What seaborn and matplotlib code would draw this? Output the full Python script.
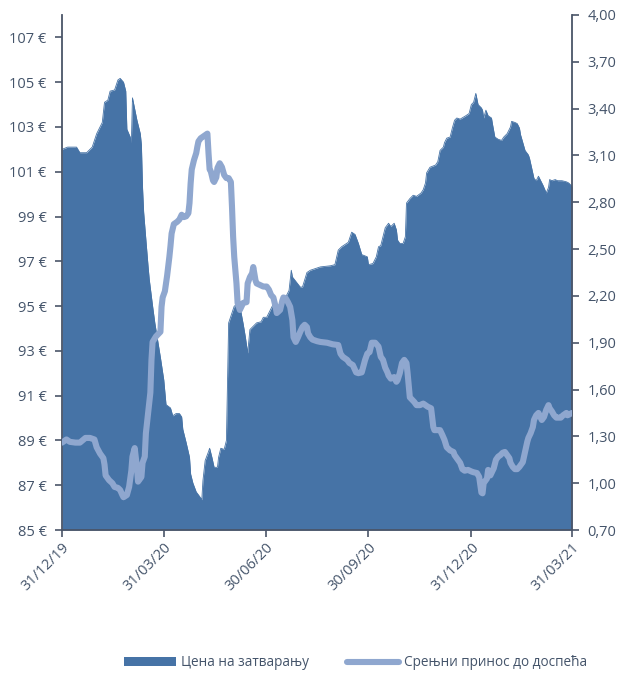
import matplotlib
matplotlib.use("Agg")
import matplotlib.pyplot as plt
import matplotlib.dates as mdates
from matplotlib.patches import Patch
from matplotlib.lines import Line2D
from matplotlib.ticker import FixedLocator, FuncFormatter
import numpy as np
import pandas as pd
import seaborn as sns

# Closing price (EUR)
price_dates = [
    "2019-12-31", "2020-01-05", "2020-01-13", "2020-01-16", "2020-01-22", "2020-01-27",
    "2020-01-31", "2020-02-03", "2020-02-05", "2020-02-07", "2020-02-10", "2020-02-12",
    "2020-02-16", "2020-02-19", "2020-02-21", "2020-02-24", "2020-02-26", "2020-02-27",
    "2020-03-01", "2020-03-02", "2020-03-03", "2020-03-07", "2020-03-10", "2020-03-11",
    "2020-03-12", "2020-03-13", "2020-03-15", "2020-03-17", "2020-03-18", "2020-03-20",
    "2020-03-21", "2020-03-23", "2020-03-28", "2020-03-31", "2020-04-02", "2020-04-06",
    "2020-04-08", "2020-04-11", "2020-04-14", "2020-04-16", "2020-04-17", "2020-04-20",
    "2020-04-23", "2020-04-24", "2020-04-26", "2020-04-29", "2020-05-02", "2020-05-04",
    "2020-05-05", "2020-05-07", "2020-05-10", "2020-05-11", "2020-05-13", "2020-05-15",
    "2020-05-18", "2020-05-19", "2020-05-21", "2020-05-24", "2020-05-26", "2020-05-27",
    "2020-05-28", "2020-05-31", "2020-06-02", "2020-06-04", "2020-06-07", "2020-06-10",
    "2020-06-12", "2020-06-14", "2020-06-16", "2020-06-19", "2020-06-22", "2020-06-26",
    "2020-06-28", "2020-07-01", "2020-07-04", "2020-07-07", "2020-07-10", "2020-07-13",
    "2020-07-17", "2020-07-21", "2020-07-23", "2020-07-24", "2020-07-31", "2020-08-02",
    "2020-08-06", "2020-08-09", "2020-08-18", "2020-08-27", "2020-08-31", "2020-09-03",
    "2020-09-06", "2020-09-12", "2020-09-15", "2020-09-18", "2020-09-21", "2020-09-24",
    "2020-09-29", "2020-09-30", "2020-10-04", "2020-10-07", "2020-10-09", "2020-10-11",
    "2020-10-13", "2020-10-15", "2020-10-18", "2020-10-20", "2020-10-23", "2020-10-25",
    "2020-10-26", "2020-10-28", "2020-10-31", "2020-11-02", "2020-11-03", "2020-11-06",
    "2020-11-09", "2020-11-12", "2020-11-16", "2020-11-18", "2020-11-20", "2020-11-21",
    "2020-11-24", "2020-11-29", "2020-12-01", "2020-12-03", "2020-12-06", "2020-12-07",
    "2020-12-09", "2020-12-12", "2020-12-14", "2020-12-16", "2020-12-18", "2020-12-21",
    "2020-12-26", "2020-12-29", "2020-12-31", "2021-01-02", "2021-01-04", "2021-01-06",
    "2021-01-09", "2021-01-10", "2021-01-11", "2021-01-13", "2021-01-15", "2021-01-18",
    "2021-01-19", "2021-01-21", "2021-01-24", "2021-01-27", "2021-01-29", "2021-02-01",
    "2021-02-04", "2021-02-05", "2021-02-08", "2021-02-10", "2021-02-12", "2021-02-13",
    "2021-02-15", "2021-02-17", "2021-02-20", "2021-02-21", "2021-02-23", "2021-02-25",
    "2021-02-27", "2021-03-01", "2021-03-03", "2021-03-05", "2021-03-08", "2021-03-10",
    "2021-03-11", "2021-03-13", "2021-03-16", "2021-03-18", "2021-03-22", "2021-03-26",
    "2021-03-28", "2021-03-31",
]
price_values = [
    102.0, 102.1, 102.1, 101.85, 101.85, 102.1,
    102.7, 103.0, 103.2, 104.1, 104.2, 104.6,
    104.65, 105.1, 105.17, 105.0, 104.6, 102.9,
    102.55, 102.3, 104.3, 103.3, 102.7, 102.2,
    100.3, 99.2, 97.95, 96.75, 96.2, 95.4,
    95.0, 94.25, 92.7, 91.7, 90.6, 90.45,
    90.1, 90.2, 90.2, 90.05, 89.5, 88.9,
    88.25, 87.5, 87.1, 86.7, 86.5, 86.35,
    87.2, 88.1, 88.5, 88.65, 88.25, 87.8,
    87.8, 88.25, 88.65, 88.6, 89.0, 91.7,
    94.25, 94.7, 95.0, 95.05, 95.0, 94.2,
    93.6, 92.9, 93.95, 94.1, 94.25, 94.3,
    94.5, 94.5, 94.8, 95.1, 95.0, 94.7,
    95.3, 95.7, 96.6, 96.3, 95.85, 95.85,
    96.5, 96.6, 96.75, 96.8, 96.85, 97.5,
    97.65, 97.85, 98.3, 98.2, 97.8, 97.3,
    97.2, 96.85, 96.9, 97.2, 97.65, 97.7,
    98.1, 98.5, 98.7, 98.55, 98.7, 98.4,
    97.95, 97.8, 97.8, 98.1, 99.6, 99.8,
    99.95, 99.9, 100.05, 100.2, 100.5, 100.95,
    101.2, 101.3, 101.45, 101.95, 102.1, 102.3,
    102.5, 102.55, 102.95, 103.3, 103.4, 103.35,
    103.5, 103.6, 104.0, 104.1, 104.5, 104.0,
    103.85, 103.75, 103.4, 103.75, 103.5, 103.4,
    103.1, 102.55, 102.45, 102.4, 102.55, 102.7,
    103.0, 103.25, 103.2, 103.15, 102.95, 102.65,
    102.3, 101.95, 101.75, 101.6, 101.15, 100.7,
    100.6, 100.8, 100.6, 100.4, 100.05, 100.3,
    100.65, 100.6, 100.65, 100.6, 100.6, 100.55,
    100.5, 100.35,
]

# Average yield to maturity (%)
yield_dates = [
    "2019-12-31", "2020-01-04", "2020-01-07", "2020-01-12", "2020-01-16", "2020-01-21",
    "2020-01-25", "2020-01-29", "2020-01-31", "2020-02-03", "2020-02-06", "2020-02-07",
    "2020-02-08", "2020-02-11", "2020-02-14", "2020-02-16", "2020-02-19", "2020-02-21",
    "2020-02-23", "2020-02-24", "2020-02-27", "2020-02-29", "2020-03-02", "2020-03-03",
    "2020-03-05", "2020-03-07", "2020-03-08", "2020-03-11", "2020-03-12", "2020-03-14",
    "2020-03-15", "2020-03-17", "2020-03-19", "2020-03-20", "2020-03-21", "2020-03-24",
    "2020-03-28", "2020-03-29", "2020-03-30", "2020-04-01", "2020-04-03", "2020-04-05",
    "2020-04-06", "2020-04-07", "2020-04-09", "2020-04-12", "2020-04-14", "2020-04-16",
    "2020-04-18", "2020-04-20", "2020-04-22", "2020-04-23", "2020-04-24", "2020-04-25",
    "2020-04-27", "2020-04-29", "2020-04-30", "2020-05-01", "2020-05-03", "2020-05-05",
    "2020-05-07", "2020-05-09", "2020-05-10", "2020-05-11", "2020-05-12", "2020-05-14",
    "2020-05-15", "2020-05-17", "2020-05-18", "2020-05-20", "2020-05-22", "2020-05-24",
    "2020-05-26", "2020-05-28", "2020-05-30", "2020-05-31", "2020-06-01", "2020-06-02",
    "2020-06-04", "2020-06-05", "2020-06-07", "2020-06-10", "2020-06-13", "2020-06-14",
    "2020-06-16", "2020-06-18", "2020-06-19", "2020-06-21", "2020-06-22", "2020-06-25",
    "2020-06-28", "2020-07-01", "2020-07-03", "2020-07-05", "2020-07-07", "2020-07-09",
    "2020-07-10", "2020-07-13", "2020-07-15", "2020-07-16", "2020-07-18", "2020-07-20",
    "2020-07-22", "2020-07-24", "2020-07-25", "2020-07-27", "2020-07-29", "2020-07-31",
    "2020-08-02", "2020-08-04", "2020-08-06", "2020-08-07", "2020-08-09", "2020-08-11",
    "2020-08-15", "2020-08-18", "2020-08-24", "2020-08-29", "2020-09-03", "2020-09-05",
    "2020-09-07", "2020-09-11", "2020-09-13", "2020-09-16", "2020-09-19", "2020-09-21",
    "2020-09-24", "2020-09-27", "2020-09-29", "2020-10-01", "2020-10-03", "2020-10-06",
    "2020-10-09", "2020-10-11", "2020-10-13", "2020-10-15", "2020-10-17", "2020-10-18",
    "2020-10-20", "2020-10-23", "2020-10-25", "2020-10-26", "2020-10-28", "2020-10-30",
    "2020-11-01", "2020-11-03", "2020-11-04", "2020-11-06", "2020-11-08", "2020-11-10",
    "2020-11-12", "2020-11-15", "2020-11-18", "2020-11-20", "2020-11-22", "2020-11-25",
    "2020-11-27", "2020-11-28", "2020-12-03", "2020-12-05", "2020-12-07", "2020-12-09",
    "2020-12-12", "2020-12-15", "2020-12-16", "2020-12-19", "2020-12-21", "2020-12-23",
    "2020-12-25", "2020-12-28", "2020-12-31", "2021-01-02", "2021-01-05", "2021-01-07",
    "2021-01-09", "2021-01-10", "2021-01-11", "2021-01-14", "2021-01-15", "2021-01-17",
    "2021-01-18", "2021-01-20", "2021-01-22", "2021-01-24", "2021-01-26", "2021-01-28",
    "2021-01-30", "2021-02-01", "2021-02-03", "2021-02-04", "2021-02-06", "2021-02-08",
    "2021-02-10", "2021-02-12", "2021-02-13", "2021-02-15", "2021-02-17", "2021-02-19",
    "2021-02-20", "2021-02-22", "2021-02-24", "2021-02-25", "2021-02-27", "2021-03-01",
    "2021-03-02", "2021-03-04", "2021-03-06", "2021-03-08", "2021-03-10", "2021-03-11",
    "2021-03-13", "2021-03-15", "2021-03-17", "2021-03-18", "2021-03-21", "2021-03-23",
    "2021-03-26", "2021-03-27", "2021-03-31",
]
yield_values = [
    1.26, 1.28, 1.265, 1.26, 1.26, 1.29,
    1.29, 1.28, 1.23, 1.19, 1.16, 1.12,
    1.05, 1.02, 1.00, 0.976, 0.97, 0.956,
    0.924, 0.91, 0.924, 0.976, 1.08, 1.17,
    1.225, 1.10, 1.01, 1.04, 1.13, 1.17,
    1.32, 1.45, 1.58, 1.79, 1.905, 1.94,
    1.97, 2.13, 2.19, 2.23, 2.33, 2.45,
    2.52, 2.60, 2.66, 2.675, 2.69, 2.72,
    2.705, 2.71, 2.73, 2.795, 2.92, 3.01,
    3.07, 3.115, 3.155, 3.19, 3.21, 3.22,
    3.23, 3.24, 3.115, 3.01, 3.0, 2.94,
    2.93, 2.96, 3.02, 3.05, 3.025, 2.975,
    2.955, 2.955, 2.93, 2.77, 2.58, 2.45,
    2.28, 2.155, 2.11, 2.155, 2.16, 2.28,
    2.32, 2.345, 2.385, 2.30, 2.28, 2.27,
    2.26, 2.26, 2.24, 2.205, 2.19, 2.13,
    2.09, 2.11, 2.17, 2.19, 2.185, 2.16,
    2.13, 2.045, 1.935, 1.905, 1.935, 1.97,
    2.0, 2.015, 2.0, 1.96, 1.935, 1.92,
    1.91, 1.905, 1.90, 1.89, 1.885, 1.83,
    1.81, 1.79, 1.77, 1.757, 1.71, 1.705,
    1.71, 1.79, 1.83, 1.84, 1.90, 1.90,
    1.875, 1.81, 1.79, 1.74, 1.71, 1.69,
    1.67, 1.68, 1.65, 1.66, 1.705, 1.77,
    1.79, 1.77, 1.705, 1.55, 1.535, 1.52,
    1.50, 1.50, 1.51, 1.50, 1.49, 1.48,
    1.36, 1.34, 1.34, 1.31, 1.277, 1.23,
    1.21, 1.20, 1.18, 1.15, 1.13, 1.09,
    1.08, 1.085, 1.075, 1.07, 1.065, 1.04,
    0.94, 0.935, 1.0, 1.03, 1.085, 1.05,
    1.065, 1.095, 1.15, 1.17, 1.18, 1.195,
    1.20, 1.18, 1.16, 1.13, 1.105, 1.09,
    1.09, 1.105, 1.115, 1.135, 1.20, 1.265,
    1.29, 1.32, 1.36, 1.405, 1.435, 1.45,
    1.435, 1.405, 1.425, 1.47, 1.50, 1.48,
    1.46, 1.435, 1.42, 1.42, 1.42, 1.435,
    1.45, 1.435, 1.45,
]

tick_dates = ["2019-12-31", "2020-03-31", "2020-06-30", "2020-09-30", "2020-12-31", "2021-03-31"]
price_ticks = list(range(85, 108, 2))
yield_ticks = [0.70, 1.00, 1.30, 1.60, 1.90, 2.20, 2.50, 2.80, 3.10, 3.40, 3.70, 4.00]

price_label = "Цена на затварању"
yield_label = "Срењни принос до доспећа"

area_color = "#4673A6"
line_color = "#8FA7CF"
text_color = "#44546A"
spine_color = "#4A5568"

sns.set_theme(style="white")
plt.rcParams["font.family"] = ["Open Sans", "DejaVu Sans"]

price_df = pd.DataFrame({"date": pd.to_datetime(price_dates), "price": price_values})
yield_df = pd.DataFrame({"date": pd.to_datetime(yield_dates), "ytm": yield_values})

fig = plt.figure(figsize=(6.26, 6.75), dpi=100)
ax = fig.add_axes([62 / 626, 1 - 530 / 675, 510 / 626, 515 / 675])

ax.fill_between(price_df["date"], price_df["price"], 85, color=area_color, linewidth=0, zorder=2)
sns.lineplot(data=price_df, x="date", y="price", ax=ax, color=area_color, linewidth=0.6,
             legend=False, zorder=2)

ax2 = ax.twinx()
sns.lineplot(data=yield_df, x="date", y="ytm", ax=ax2, color=line_color, linewidth=4.4,
             legend=False, zorder=3, solid_capstyle="round", solid_joinstyle="round")

start, end = pd.Timestamp(tick_dates[0]), pd.Timestamp(tick_dates[-1])
ax.set_xlim(start, end)
ax.set_ylim(85, 108)
ax2.set_ylim(0.70, 4.00)

ax.yaxis.set_major_locator(FixedLocator(price_ticks))
ax.yaxis.set_major_formatter(FuncFormatter(lambda v, p: f"{int(round(v))} €"))
ax2.yaxis.set_major_locator(FixedLocator(yield_ticks))
ax2.yaxis.set_major_formatter(FuncFormatter(lambda v, p: f"{v:.2f}".replace(".", ",")))
ax.xaxis.set_major_locator(FixedLocator(mdates.date2num(pd.to_datetime(tick_dates))))
ax.xaxis.set_major_formatter(mdates.DateFormatter("%d/%m/%y"))

for a in (ax, ax2):
    a.set_xlabel("")
    a.set_ylabel("")
    for s in a.spines.values():
        s.set_visible(False)

ax.spines["left"].set_visible(True)
ax.spines["bottom"].set_visible(True)
ax2.spines["right"].set_visible(True)
for s in (ax.spines["left"], ax.spines["bottom"], ax2.spines["right"]):
    s.set_color(spine_color)
    s.set_linewidth(1.3)

ax.tick_params(axis="y", which="major", direction="out", length=5, width=1.2,
               color=spine_color, labelcolor=text_color, labelsize=10.5, pad=6, left=True)
ax.tick_params(axis="x", which="major", direction="out", length=5, width=1.2,
               color=spine_color, labelcolor=text_color, labelsize=10.5, pad=2, bottom=True)
ax2.tick_params(axis="y", which="major", direction="out", length=5, width=1.2,
                color=spine_color, labelcolor=text_color, labelsize=10.5, pad=6, right=True)
for lbl in ax.get_xticklabels():
    lbl.set_rotation(45)
    lbl.set_ha("right")
    lbl.set_rotation_mode("anchor")

ax.grid(False)
ax2.grid(False)

handles = [
    Patch(facecolor=area_color, edgecolor="none", label=price_label),
    Line2D([0], [0], color=line_color, linewidth=4.4, solid_capstyle="round", label=yield_label),
]
fig.legend(handles=handles, loc="center", bbox_to_anchor=(0.568, 0.018), ncol=2,
           frameon=False, fontsize=9.8, labelcolor=text_color, handlelength=3.8,
           handleheight=0.65, handletextpad=0.35, columnspacing=2.8)

fig.savefig("out.png", dpi=100)
